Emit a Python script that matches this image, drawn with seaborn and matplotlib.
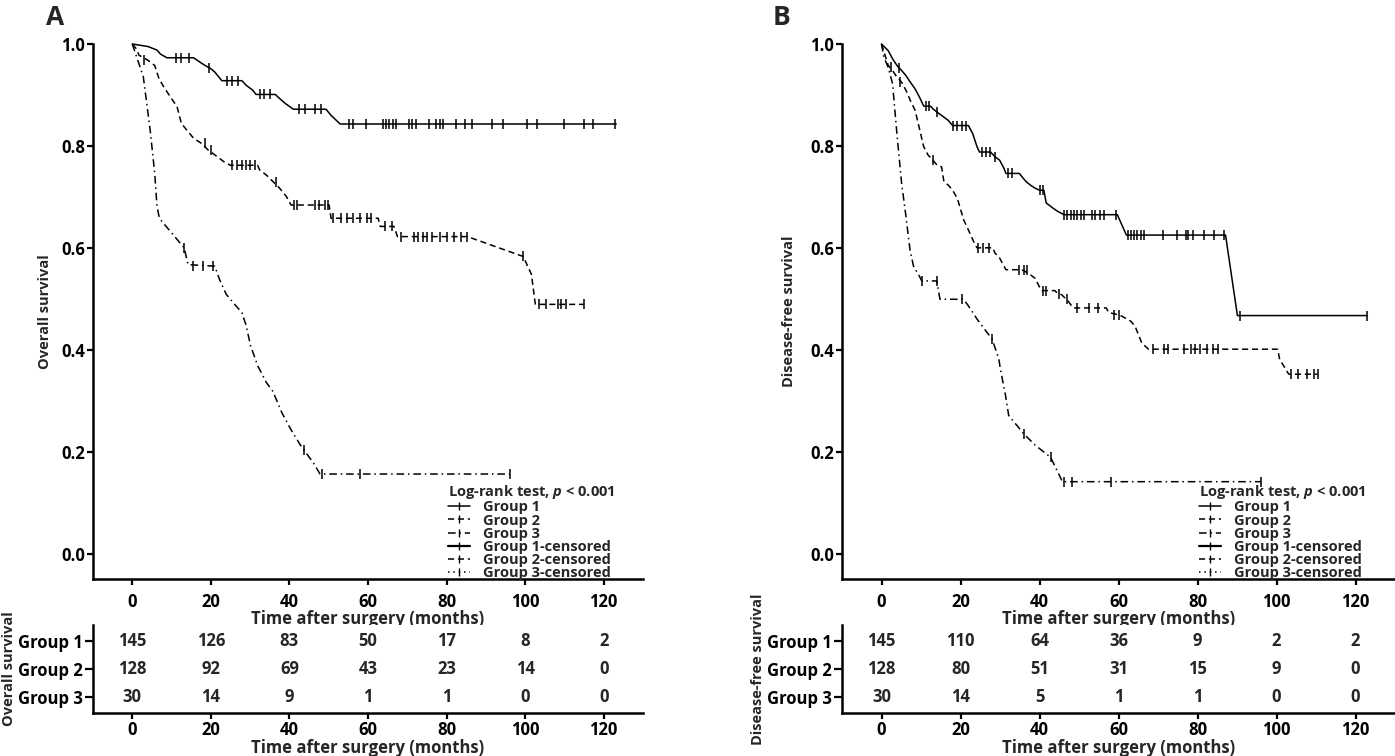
import numpy as np
import pandas as pd
import matplotlib
matplotlib.use('Agg')
import matplotlib.pyplot as plt
from matplotlib.lines import Line2D
import seaborn as sns

# ---- data ---------------------------------------------------------------
groups = ['Group 1', 'Group 2', 'Group 3']
risk_times = [0, 20, 40, 60, 80, 100, 120]

# Panel A: overall survival (curve vertices, point-to-point)
os_g1_t = [0, 4.0, 6.3, 7.2, 8.8, 15.6, 17.1, 18.5, 19.9, 21.0, 22.8, 27.9, 29.0, 30.7, 31.5,
           36.4, 37.5, 39.0, 41.0, 49.3, 50.6, 52.9, 123.2]
os_g1_s = [1.0, 0.995, 0.988, 0.98, 0.973, 0.973, 0.965, 0.958, 0.952, 0.945, 0.928, 0.928, 0.919,
           0.909, 0.901, 0.901, 0.893, 0.883, 0.872, 0.872, 0.86, 0.843, 0.843]
os_g2_t = [0, 1.1, 1.7, 4.0, 5.7, 6.8, 8.0, 9.7, 11.4, 12.5, 14.2, 15.6, 17.6, 19.3, 21.6, 23.3,
           25.0, 31.9, 32.4, 34.1, 35.8, 37.5, 39.2, 40.4, 50.1, 50.6, 62.6, 63.1, 66.6, 67.5,
           85.3, 99.5, 101.6, 102.6, 114.9]
os_g2_s = [1.0, 0.99, 0.978, 0.968, 0.958, 0.932, 0.916, 0.896, 0.877, 0.844, 0.828, 0.815, 0.805,
           0.792, 0.779, 0.769, 0.762, 0.762, 0.753, 0.743, 0.730, 0.717, 0.701, 0.684, 0.684,
           0.658, 0.658, 0.642, 0.642, 0.622, 0.622, 0.583, 0.548, 0.489, 0.489]
os_g3_t = [0, 2.8, 4.55, 5.7, 6.3, 6.8, 7.2, 13.2, 14.2, 21.0, 22.2, 23.9, 25.6, 27.9, 29.0, 30.1,
           31.9, 34.1, 35.8, 38.1, 40.4, 42.7, 43.6, 46.1, 47.8, 96.1]
os_g3_s = [1.0, 0.936, 0.831, 0.747, 0.681, 0.662, 0.655, 0.60, 0.567, 0.564, 0.538, 0.509, 0.493,
           0.473, 0.447, 0.408, 0.369, 0.336, 0.318, 0.276, 0.243, 0.214, 0.204, 0.178, 0.156, 0.156]

# censored observations (time, survival)
os_g1_cens_t = [11, 12.5, 14.5, 19.5, 24, 25.5, 27, 32.5, 33.5, 35, 42.5, 44, 46.5, 48,
                55.2, 56.1, 59.5, 63.7, 64.5, 65.4, 66.3, 67.1, 70.5, 71.1, 72.2, 75.4, 77.4,
                78.3, 79.1, 82.5, 84.8, 86.5, 91.6, 94.4, 100.4, 102.9, 110, 114.9, 117.2, 122.9]
os_g1_cens_s = [0.973, 0.973, 0.973, 0.952, 0.928, 0.928, 0.928, 0.901, 0.901, 0.901,
                0.872, 0.872, 0.872, 0.872] + [0.843] * 26
os_g2_cens_t = [3, 18.5, 20, 25.5, 26.7, 27.8, 29, 30, 31.3, 36.5, 41.2, 41.8, 46.5, 47.5, 49,
                49.8, 51.2, 53, 54.6, 56.3, 58, 59.7, 60.8, 64.3, 66, 68.3, 71.6, 72.8, 73.9,
                75, 76.2, 78.4, 80.2, 81.9, 83.6, 85.3, 99.5, 103.5, 105.3, 108.4, 109.2,
                110.4, 114.9]
os_g2_cens_s = ([0.968, 0.805, 0.792] + [0.762] * 6 + [0.73] + [0.684] * 6 + [0.658] * 7
                + [0.642] * 2 + [0.622] * 11 + [0.583] + [0.489] * 6)
os_g3_cens_t = [13.2, 15.5, 18.0, 20.5, 43.6, 48.3, 58, 96.1]
os_g3_cens_s = [0.60, 0.564, 0.564, 0.564, 0.204, 0.156, 0.156, 0.156]

os_risk_g1 = [145, 126, 83, 50, 17, 8, 2]
os_risk_g2 = [128, 92, 69, 43, 23, 14, 0]
os_risk_g3 = [30, 14, 9, 1, 1, 0, 0]

# Panel B: disease-free survival
dfs_g1_t = [0, 1.7, 2.8, 3.9, 5.1, 6.2, 7.3, 8.5, 9.6, 10.7, 12.4, 13.0, 14.1, 15.2, 16.9, 18.0,
            22.0, 23.1, 24.2, 24.8, 27.6, 28.7, 29.9, 31.0, 31.5, 34.9, 35.5, 36.6, 37.7, 38.9,
            40.0, 41.1, 41.7, 43.4, 44.5, 46.2, 59.7, 62.0, 87.1, 90.1, 123.0]
dfs_g1_s = [1.0, 0.987, 0.971, 0.958, 0.948, 0.938, 0.925, 0.912, 0.896, 0.878, 0.878, 0.873,
            0.866, 0.86, 0.85, 0.84, 0.84, 0.824, 0.798, 0.788, 0.788, 0.779, 0.772, 0.756,
            0.746, 0.746, 0.74, 0.73, 0.723, 0.717, 0.713, 0.713, 0.688, 0.678, 0.672, 0.665,
            0.665, 0.625, 0.625, 0.467, 0.467]
dfs_g2_t = [0, 1.7, 2.8, 3.9, 5.1, 6.2, 7.3, 8.5, 9.6, 10.7, 11.8, 13.0, 14.1, 15.2, 15.8, 16.9,
            18.0, 19.2, 20.8, 22.0, 23.7, 24.2, 28.2, 28.7, 29.9, 31.0, 31.5, 35.5, 37.2, 38.9,
            40.0, 40.6, 43.9, 44.5, 45.6, 47.3, 48.5, 56.9, 57.5, 59.2, 60.8, 63.1, 64.2, 65.9,
            67.6, 100.3, 100.8, 103.1, 110.4]
dfs_g2_s = [1.0, 0.958, 0.948, 0.935, 0.925, 0.909, 0.889, 0.87, 0.834, 0.798, 0.782, 0.772,
            0.762, 0.759, 0.73, 0.723, 0.713, 0.697, 0.655, 0.635, 0.606, 0.6, 0.6, 0.59, 0.58,
            0.564, 0.557, 0.557, 0.55, 0.54, 0.523, 0.516, 0.516, 0.511, 0.508, 0.495, 0.482,
            0.482, 0.473, 0.47, 0.466, 0.456, 0.446, 0.413, 0.401, 0.401, 0.381, 0.352, 0.352]
dfs_g3_t = [0, 0.6, 1.7, 2.8, 3.9, 5.1, 6.2, 7.2, 8.1, 9.6, 10.2, 14.0, 14.8, 20.8, 22.0, 24.2,
            26.7, 28.0, 29.7, 30.1, 31.4, 32.2, 36.0, 39.0, 42.8, 45.8, 96.1]
dfs_g3_s = [1.0, 0.974, 0.954, 0.922, 0.824, 0.726, 0.661, 0.597, 0.564, 0.544, 0.535, 0.535,
            0.499, 0.499, 0.486, 0.46, 0.434, 0.421, 0.382, 0.362, 0.31, 0.271, 0.235, 0.212,
            0.189, 0.141, 0.141]

dfs_g1_cens_t = [4.5, 11.3, 12.1, 14.1, 18.0, 19.2, 20.3, 21.4, 25.4, 26.5, 27.4, 28.7, 32.0,
                 33.1, 40.2, 40.9, 46.2, 47.0, 47.9, 48.8, 49.6, 50.4, 51.3, 53.3, 54.1, 55.2,
                 56.3, 59.4, 62.3, 63.1, 63.9, 64.8, 65.7, 66.5, 71.3, 74.9, 77.0, 77.7, 78.9,
                 81.7, 84.2, 86.8, 90.7, 122.8]
dfs_g1_cens_s = ([0.953, 0.878, 0.878, 0.866] + [0.84] * 4 + [0.788] * 3 + [0.779]
                 + [0.746] * 2 + [0.713] * 2 + [0.665] * 12 + [0.625] * 14 + [0.467] * 2)
dfs_g2_cens_t = [2.3, 4.8, 13.0, 24.5, 25.8, 27.2, 34.7, 36.0, 36.9, 40.8, 41.6, 45.0, 47.0,
                 49.6, 52.5, 54.7, 58.9, 60.2, 68.7, 71.5, 72.5, 76.6, 78.3, 79.4, 80.6, 82.3,
                 84.0, 85.1, 103.7, 105.4, 107.6, 109.6, 110.4]
dfs_g2_cens_s = ([0.955, 0.925, 0.772] + [0.6] * 3 + [0.557] * 3 + [0.516] * 2 + [0.51, 0.50]
                 + [0.482] * 3 + [0.469] * 2 + [0.401] * 10 + [0.352] * 5)
dfs_g3_cens_t = [10.2, 14.0, 20.3, 28.0, 36.0, 42.8, 46.2, 48.3, 58.1, 96.1]
dfs_g3_cens_s = [0.535, 0.535, 0.499, 0.421, 0.235, 0.189, 0.141, 0.141, 0.141, 0.141]

dfs_risk_g1 = [145, 110, 64, 36, 9, 2, 2]
dfs_risk_g2 = [128, 80, 51, 31, 15, 9, 0]
dfs_risk_g3 = [30, 14, 5, 1, 1, 0, 0]

# ---- style ---------------------------------------------------------------
sns.set_theme(style='ticks')
plt.rcParams['font.family'] = ['Open Sans', 'DejaVu Sans']
plt.rcParams['font.weight'] = 'bold'
plt.rcParams['axes.labelweight'] = 'bold'
plt.rcParams['mathtext.fontset'] = 'custom'
plt.rcParams['mathtext.it'] = 'Open Sans:italic:bold'
plt.rcParams['mathtext.rm'] = 'Open Sans:bold'

line_styles = ['-', (0, (4, 2.5)), (0, (5, 2.5, 1, 2.5))]
cens_styles = ['-', (0, (4, 2.5)), (0, (1, 2.5))]
W, H = 1395, 756
FS = 12

fig = plt.figure(figsize=(W / 100, H / 100), dpi=100)


def px_axes(left, top, right, bottom):
    return fig.add_axes([left / W, 1 - bottom / H, (right - left) / W, (bottom - top) / H])


def style_axes(ax):
    sns.despine(ax=ax)
    for s in ['left', 'bottom']:
        ax.spines[s].set_linewidth(1.8)
        ax.spines[s].set_color('black')
    ax.tick_params(width=1.6, length=4, color='black', labelsize=FS, labelcolor='black')
    ax.set_facecolor('white')


def draw_panel(left, right, curves, cens, risks, ylabel, letter, letter_x, ypad):
    ax = px_axes(left, 44, right, 579)
    style_axes(ax)
    for i, (t, s) in enumerate(curves):
        df = pd.DataFrame({'t': t, 's': s})
        sns.lineplot(data=df, x='t', y='s', ax=ax, color='black', lw=1.1,
                     linestyle=line_styles[i], estimator=None, sort=False, clip_on=False)
    for i, (t, s) in enumerate(cens):
        ax.plot(t, s, ls='none', marker='|', ms=7, mew=1.1, color='black', clip_on=False)
    ax.set_xlim(-10, 130)
    ax.set_ylim(-0.05, 1.0)
    ax.set_xticks(risk_times)
    ax.set_yticks([0, 0.2, 0.4, 0.6, 0.8, 1.0])
    ax.set_yticklabels([f'{v:.1f}' for v in [0, 0.2, 0.4, 0.6, 0.8, 1.0]])
    ax.tick_params(axis='x', pad=6)
    ax.tick_params(axis='y', pad=1.5)
    ax.set_xlabel('Time after surgery (months)', fontsize=FS, labelpad=-1)
    ax.set_ylabel(ylabel, fontsize=10.5, labelpad=ypad)

    handles = [Line2D([], [], color='black', lw=1.1, ls=line_styles[i], marker='|', ms=6, mew=1)
               for i in range(3)]
    handles += [Line2D([], [], color='black', lw=1.6 if i == 0 else 1.1, ls=cens_styles[i],
                       marker='|', ms=6, mew=1) for i in range(3)]
    labels = groups + [g + '-censored' for g in groups]
    leg = ax.legend(handles, labels, title='Log-rank test, $p$ < 0.001', loc='lower left',
                    bbox_to_anchor=(0.645, -0.002), frameon=False, fontsize=10.5,
                    title_fontsize=10.5, labelspacing=-0.06, handlelength=1.5,
                    handletextpad=0.9, borderpad=0, borderaxespad=0)
    leg._legend_box.align = 'left'

    axt = px_axes(left, 625, right, 713)
    style_axes(axt)
    axt.set_xlim(-10, 130)
    axt.set_ylim(3.55, 0.45)
    axt.set_xticks(risk_times)
    axt.set_yticks([1, 2, 3])
    axt.set_yticklabels(groups)
    axt.tick_params(axis='y', pad=1.5, length=6)
    axt.tick_params(axis='x', pad=2)
    for row, counts in enumerate(risks, start=1):
        for t, n in zip(risk_times, counts):
            axt.text(t, row, str(n), ha='center', va='center', fontsize=FS)
    axt.set_xlabel('Time after surgery (months)', fontsize=FS, labelpad=0)
    axt.set_ylabel(ylabel, fontsize=10.5, labelpad=1)

    fig.text(letter_x / W, 1 - 4 / H, letter, fontsize=19, fontweight='bold', va='top')


draw_panel(93, 643,
           [(os_g1_t, os_g1_s), (os_g2_t, os_g2_s), (os_g3_t, os_g3_s)],
           [(os_g1_cens_t, os_g1_cens_s), (os_g2_cens_t, os_g2_cens_s), (os_g3_cens_t, os_g3_cens_s)],
           [os_risk_g1, os_risk_g2, os_risk_g3], 'Overall survival', 'A', 46, 6.5)
draw_panel(842, 1395,
           [(dfs_g1_t, dfs_g1_s), (dfs_g2_t, dfs_g2_s), (dfs_g3_t, dfs_g3_s)],
           [(dfs_g1_cens_t, dfs_g1_cens_s), (dfs_g2_cens_t, dfs_g2_cens_s), (dfs_g3_cens_t, dfs_g3_cens_s)],
           [dfs_risk_g1, dfs_risk_g2, dfs_risk_g3], 'Disease-free survival', 'B', 773, 10)

fig.savefig('out.png', dpi=100, facecolor='white')
